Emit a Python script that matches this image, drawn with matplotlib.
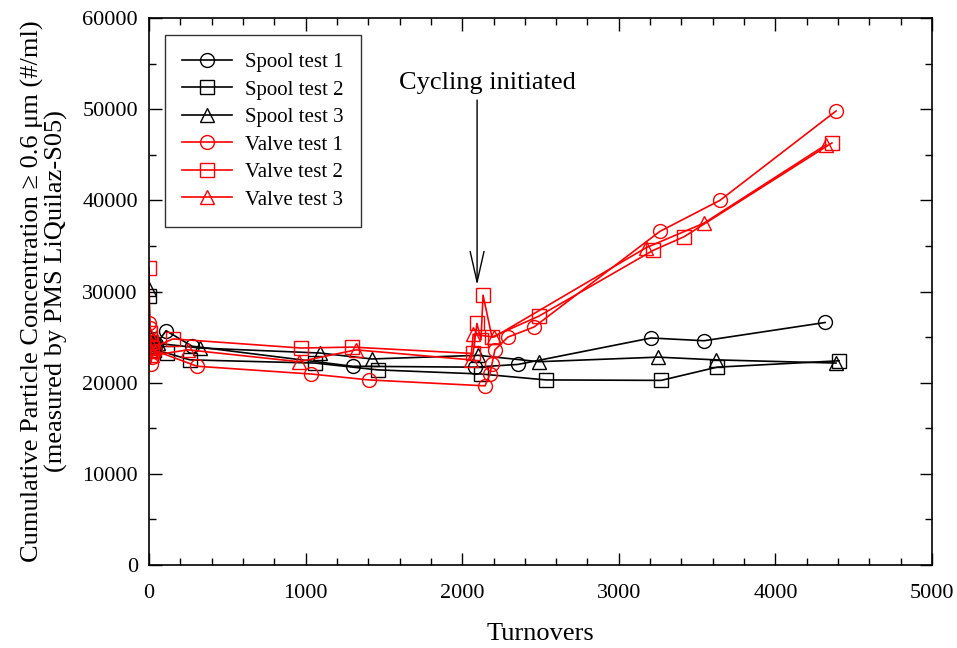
import matplotlib.pyplot as plt
from matplotlib.ticker import MultipleLocator

plt.rcParams['font.family'] = ['Liberation Serif', 'DejaVu Serif']
plt.rcParams['mathtext.fontset'] = 'stix'

# Spool tests (black)
spool1_x = [0, 5, 12, 25, 45, 109, 275, 1300, 2080, 2356, 3206, 3544, 4317]
spool1_y = [24800, 24300, 24000, 24500, 24200, 25700, 24000, 21800, 21700, 22000, 24900, 24600, 26600]
spool2_x = [0, 5, 15, 30, 115, 262, 1060, 1462, 2120, 2535, 3270, 3627, 4406]
spool2_y = [29500, 24800, 24000, 23600, 23250, 22500, 22150, 21400, 20950, 20300, 20250, 21700, 22400]
spool3_x = [0, 5, 15, 30, 60, 326, 1092, 1424, 2100, 2490, 3250, 3620, 4387]
spool3_y = [30300, 25000, 24500, 24200, 24300, 23800, 23250, 22600, 23000, 22300, 22800, 22500, 22150]

# Valve tests (red)
valve1_x = [0, 5, 10, 20, 40, 307, 1034, 1405, 2146, 2177, 2190, 2209, 2292, 2458, 3263, 3646, 4387]
valve1_y = [26500, 26000, 22100, 22800, 23500, 21800, 20950, 20300, 19650, 20950, 22050, 23600, 25000, 26100, 36600, 40000, 49800]
valve2_x = [0, 5, 10, 20, 153, 971, 1296, 2069, 2094, 2120, 2133, 2190, 2490, 3218, 3416, 4361]
valve2_y = [32600, 25500, 24500, 23800, 24800, 23800, 23900, 23200, 26500, 24700, 29600, 25000, 27300, 34500, 36000, 46300]
valve3_x = [0, 5, 10, 20, 250, 958, 1322, 2055, 2070, 2203, 3174, 3544, 4323]
valve3_y = [25500, 24500, 23500, 23000, 23600, 22300, 23600, 22500, 25300, 25000, 34800, 37500, 46100]

series = [
    ('Spool test 1', spool1_x, spool1_y, 'black', 'o'),
    ('Spool test 2', spool2_x, spool2_y, 'black', 's'),
    ('Spool test 3', spool3_x, spool3_y, 'black', '^'),
    ('Valve test 1', valve1_x, valve1_y, 'red', 'o'),
    ('Valve test 2', valve2_x, valve2_y, 'red', 's'),
    ('Valve test 3', valve3_x, valve3_y, 'red', '^'),
]

fig = plt.figure(figsize=(9.57, 6.48), dpi=100)
ax = fig.add_axes([0.1557, 0.1281, 0.8182, 0.8441])

for label, xs, ys, col, mk in series:
    ax.plot(xs, ys, color=col, marker=mk, markersize=10, markerfacecolor='none',
            markeredgecolor=col, markeredgewidth=1.0, linewidth=1.2, label=label)

ax.set_xlim(0, 5000)
ax.set_ylim(0, 60000)
ax.xaxis.set_major_locator(MultipleLocator(1000))
ax.xaxis.set_minor_locator(MultipleLocator(200))
ax.yaxis.set_major_locator(MultipleLocator(10000))
ax.yaxis.set_minor_locator(MultipleLocator(5000))
ax.tick_params(which='both', direction='in', top=True, right=True, labelsize=16)
ax.tick_params(which='major', length=9, width=1)
ax.tick_params(which='minor', length=5, width=1)
ax.tick_params(axis='x', pad=14)
ax.tick_params(axis='y', pad=8)
for sp in ax.spines.values():
    sp.set_linewidth(1.2)

ax.set_xlabel('Turnovers', fontsize=19, labelpad=14)
ax.set_ylabel('Cumulative Particle Concentration \u2265 0.6 \u03bcm (#/ml)\n(measured by PMS LiQuilaz-S05)',
              fontsize=19, labelpad=10, linespacing=1.05)

# arrow marking the start of cycling
ax.annotate('', xy=(2095, 30700), xytext=(2095, 51000),
            arrowprops=dict(arrowstyle='->, head_length=2.2, head_width=0.5',
                            color='black', lw=1.0, shrinkA=0, shrinkB=0))
ax.text(2160, 52900, 'Cycling initiated', ha='center', va='center', fontsize=19)

leg = ax.legend(loc='upper left', bbox_to_anchor=(0.02, 0.969), borderaxespad=0,
                fontsize=15, frameon=True, fancybox=False, edgecolor='black',
                handlelength=2.4, borderpad=0.85, labelspacing=0.38, handletextpad=0.6)
leg.get_frame().set_linewidth(1.0)

fig.savefig('out.png', dpi=100)
